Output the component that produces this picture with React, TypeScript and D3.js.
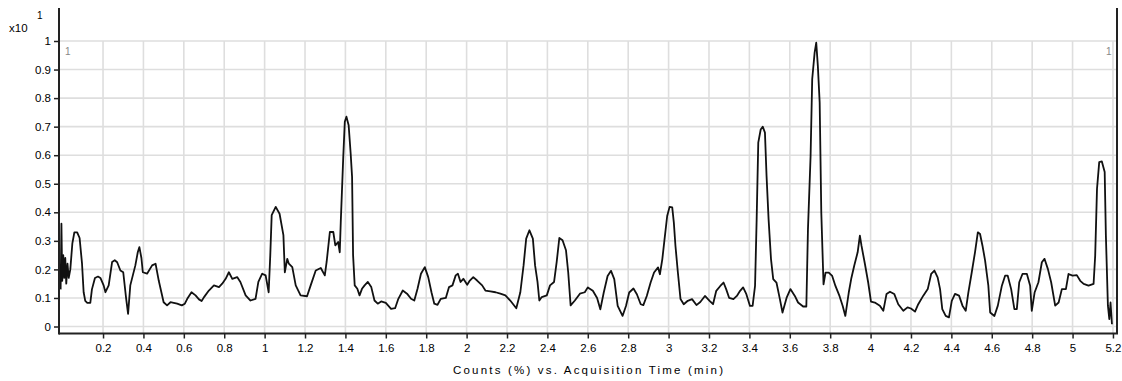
import React, { useEffect, useRef } from 'react';
import * as d3 from 'd3';

// acquisition time (min)
const timeMin = [
  -0.01, -0.006, -0.002, 0.003, 0.008, 0.013, 0.018, 0.024, 0.03, 0.038, 0.048, 0.058, 0.072, 0.084, 0.096,
  0.104, 0.112, 0.122, 0.137, 0.145, 0.16, 0.175, 0.187, 0.203, 0.212, 0.228, 0.245, 0.258, 0.27, 0.286,
  0.3, 0.314, 0.324, 0.335, 0.36, 0.372, 0.38, 0.39, 0.397, 0.418, 0.443, 0.46, 0.476, 0.5, 0.517,
  0.534, 0.55, 0.567, 0.59, 0.605, 0.617, 0.638, 0.658, 0.675, 0.688, 0.7, 0.724, 0.749, 0.774, 0.79,
  0.807, 0.823, 0.84, 0.864, 0.88, 0.906, 0.93, 0.955, 0.969, 0.988, 1.005, 1.02, 1.028, 1.035, 1.055,
  1.074, 1.093, 1.1, 1.112, 1.12, 1.137, 1.154, 1.178, 1.21, 1.228, 1.253, 1.278,
  1.298, 1.307, 1.323, 1.34, 1.35, 1.364, 1.372, 1.377, 1.389, 1.397, 1.405, 1.416, 1.426, 1.433, 1.438,
  1.446, 1.459, 1.47, 1.482, 1.495, 1.511, 1.528, 1.544, 1.56, 1.577, 1.6, 1.626, 1.646, 1.662, 1.684,
  1.705, 1.725, 1.741, 1.757, 1.774, 1.793, 1.81, 1.826, 1.84, 1.856, 1.872, 1.897, 1.913, 1.93, 1.946,
  1.957, 1.97, 1.984, 2.003, 2.016, 2.033, 2.052, 2.077, 2.093, 2.118, 2.143, 2.167, 2.192, 2.216, 2.246,
  2.266, 2.282, 2.295, 2.311, 2.328, 2.339, 2.351, 2.36, 2.372, 2.397, 2.413, 2.433, 2.446, 2.459, 2.475,
  2.492, 2.503, 2.515, 2.536, 2.561, 2.585,
  2.6, 2.625, 2.646, 2.662, 2.679, 2.698, 2.715, 2.731, 2.748, 2.772, 2.789, 2.805, 2.826, 2.843, 2.862,
  2.875, 2.892, 2.911, 2.928, 2.948, 2.957, 2.969, 2.98, 2.993, 3.005, 3.018, 3.026, 3.034, 3.046, 3.059,
  3.075, 3.095, 3.116, 3.138, 3.157, 3.18, 3.203, 3.22, 3.236, 3.256, 3.272, 3.285, 3.3, 3.321, 3.338,
  3.354, 3.369, 3.385, 3.403, 3.416, 3.428, 3.436, 3.444, 3.456, 3.466, 3.477, 3.485, 3.495, 3.507, 3.518,
  3.534, 3.551, 3.564, 3.584, 3.603, 3.625, 3.641, 3.666, 3.682, 3.69, 3.703, 3.711, 3.723, 3.731, 3.739,
  3.748, 3.756, 3.767, 3.777, 3.793, 3.81, 3.826, 3.846, 3.862, 3.875, 3.892, 3.905,
  3.919, 3.936, 3.947, 3.955, 3.972, 3.988, 4.002, 4.021, 4.046, 4.063, 4.079, 4.096, 4.117, 4.137, 4.162,
  4.183, 4.2, 4.22, 4.236, 4.261, 4.283, 4.3, 4.316, 4.332, 4.344, 4.355, 4.372, 4.388, 4.402, 4.418,
  4.438, 4.455, 4.471, 4.484, 4.501, 4.517, 4.531, 4.542, 4.554, 4.567, 4.583, 4.592, 4.613, 4.63, 4.65,
  4.666, 4.679, 4.696, 4.712, 4.724, 4.736, 4.752, 4.774, 4.79, 4.798, 4.812, 4.831, 4.848, 4.861, 4.878,
  4.894, 4.914, 4.931, 4.947, 4.967, 4.98, 5.0, 5.021, 5.038, 5.055, 5.079, 5.104, 5.112, 5.121, 5.132,
  5.145, 5.159, 5.165, 5.175, 5.182, 5.188, 5.195,
];

// counts (x10^1 %)
const counts = [
  0.13, 0.36, 0.16, 0.25, 0.17, 0.24, 0.15, 0.22, 0.17, 0.2, 0.29, 0.33, 0.33, 0.31, 0.22,
  0.12, 0.09, 0.083, 0.083, 0.13, 0.17, 0.175, 0.17, 0.144, 0.12, 0.144, 0.226, 0.232, 0.225, 0.196,
  0.19, 0.1, 0.044, 0.144, 0.214, 0.26, 0.278, 0.24, 0.19, 0.185, 0.214, 0.22, 0.16, 0.085, 0.074,
  0.085, 0.083, 0.08, 0.074, 0.08, 0.097, 0.12, 0.109, 0.095, 0.089, 0.103, 0.126, 0.144, 0.138, 0.15,
  0.167, 0.19, 0.167, 0.173, 0.156, 0.109, 0.091, 0.097, 0.156, 0.185, 0.179, 0.12, 0.25, 0.39, 0.419,
  0.395, 0.32, 0.19, 0.237, 0.22, 0.208, 0.144, 0.109, 0.106, 0.144, 0.196, 0.205,
  0.179, 0.226, 0.331, 0.331, 0.284, 0.296, 0.26, 0.366, 0.588, 0.717, 0.735, 0.705, 0.606, 0.524, 0.249,
  0.144, 0.132, 0.109, 0.132, 0.144, 0.156, 0.138, 0.091, 0.08, 0.088, 0.083, 0.062, 0.064, 0.097, 0.126,
  0.115, 0.097, 0.091, 0.132, 0.185, 0.208, 0.173, 0.12, 0.08, 0.076, 0.097, 0.1, 0.138, 0.144, 0.179,
  0.185, 0.156, 0.167, 0.146, 0.161, 0.173, 0.161, 0.144, 0.126, 0.123, 0.12, 0.115, 0.109, 0.091, 0.064,
  0.12, 0.214, 0.308, 0.337, 0.308, 0.214, 0.156, 0.091, 0.103, 0.109, 0.144, 0.156, 0.226, 0.31, 0.302,
  0.267, 0.19, 0.074, 0.091, 0.115, 0.12,
  0.137, 0.125, 0.1, 0.06, 0.119, 0.177, 0.195, 0.166, 0.072, 0.037, 0.072, 0.119, 0.133, 0.113, 0.078,
  0.075, 0.107, 0.154, 0.189, 0.207, 0.183, 0.236, 0.306, 0.387, 0.419, 0.417, 0.364, 0.282, 0.189, 0.096,
  0.078, 0.09, 0.096, 0.075, 0.086, 0.107, 0.09, 0.078, 0.125, 0.142, 0.154, 0.131, 0.1, 0.096, 0.107,
  0.125, 0.137, 0.113, 0.072, 0.072, 0.142, 0.376, 0.644, 0.69, 0.7, 0.679, 0.527, 0.376, 0.236, 0.166,
  0.154, 0.096, 0.049, 0.1, 0.131, 0.107, 0.084, 0.07, 0.07, 0.341, 0.597, 0.866, 0.959, 0.994, 0.912,
  0.784, 0.399, 0.148, 0.189, 0.189, 0.177, 0.142, 0.107, 0.072, 0.037, 0.119, 0.17,
  0.213, 0.26, 0.318, 0.283, 0.219, 0.155, 0.087, 0.084, 0.073, 0.055, 0.114, 0.122, 0.114, 0.078, 0.055,
  0.067, 0.063, 0.052, 0.078, 0.108, 0.131, 0.184, 0.196, 0.172, 0.131, 0.061, 0.037, 0.032, 0.09, 0.114,
  0.108, 0.073, 0.055, 0.119, 0.19, 0.26, 0.33, 0.324, 0.283, 0.231, 0.143, 0.049, 0.037, 0.073, 0.143,
  0.178, 0.178, 0.131, 0.061, 0.061, 0.155, 0.184, 0.184, 0.143, 0.055, 0.119, 0.155, 0.225, 0.237, 0.201,
  0.155, 0.073, 0.084, 0.131, 0.131, 0.184, 0.178, 0.18, 0.16, 0.149, 0.143, 0.149, 0.248, 0.482, 0.576,
  0.578, 0.541, 0.318, 0.073, 0.026, 0.084, 0.008,
];

const xTicks = [0.2, 0.4, 0.6, 0.8, 1, 1.2, 1.4, 1.6, 1.8, 2, 2.2, 2.4, 2.6, 2.8, 3, 3.2, 3.4, 3.6, 3.8, 4, 4.2, 4.4, 4.6, 4.8, 5, 5.2];
const yTicks = [0, 0.1, 0.2, 0.3, 0.4, 0.5, 0.6, 0.7, 0.8, 0.9, 1];

const xTitle = 'Counts (%) vs. Acquisition Time (min)';

export default function App() {
  const svgRef = useRef<SVGSVGElement>(null);
  const width = 1122;
  const height = 381;

  useEffect(() => {
    if (!svgRef.current) return;
    const root = d3.select(svgRef.current);
    root.selectAll('*').remove();

    const left = 59;
    const right = 1117;
    const top = 8;
    const bottom = 333.5;
    const font = '"Liberation Sans", Arial, sans-serif';

    const x = d3.scaleLinear().domain([-0.018, 5.22]).range([left, right]);
    const y = d3.scaleLinear().domain([0, 1]).range([326.5, 41]);

    // grid
    const grid = root.append('g');
    grid
      .selectAll('.vg')
      .data(xTicks)
      .enter()
      .append('line')
      .attr('x1', (d) => x(d))
      .attr('x2', (d) => x(d))
      .attr('y1', y(1))
      .attr('y2', bottom)
      .attr('stroke', '#dedede')
      .attr('stroke-width', 1.6);
    grid
      .selectAll('.hg')
      .data(yTicks)
      .enter()
      .append('line')
      .attr('x1', left)
      .attr('x2', right)
      .attr('y1', (d) => y(d))
      .attr('y2', (d) => y(d))
      .attr('stroke', '#dedede')
      .attr('stroke-width', 1.6);

    // trace
    const pts = timeMin.map((t, i) => [t, counts[i]] as [number, number]);
    const line = d3
      .line<[number, number]>()
      .x((d) => x(d[0]))
      .y((d) => y(d[1]));
    root
      .append('path')
      .datum(pts)
      .attr('d', line)
      .attr('fill', 'none')
      .attr('stroke', '#111')
      .attr('stroke-width', 1.8)
      .attr('stroke-linejoin', 'round');

    // x axis
    const xAxis = root
      .append('g')
      .attr('transform', `translate(0, ${bottom})`)
      .call(
        d3
          .axisBottom(x)
          .tickValues(xTicks)
          .tickSize(5)
          .tickFormat((d) => d3.format('~g')(d as number))
      );
    xAxis.select('.domain').remove();
    xAxis.selectAll('.tick line').attr('stroke', '#222').attr('stroke-width', 1.5);
    xAxis
      .selectAll('text')
      .attr('fill', '#000')
      .attr('font-size', '11.5px')
      .attr('font-family', font)
      .attr('dy', '0.72em')
      .attr('y', 10);

    // y axis
    const yAxis = root
      .append('g')
      .attr('transform', `translate(${left}, 0)`)
      .call(
        d3
          .axisLeft(y)
          .tickValues(yTicks)
          .tickSize(5)
          .tickFormat((d) => d3.format('~g')(d as number))
      );
    yAxis.select('.domain').remove();
    yAxis.selectAll('.tick line').attr('stroke', '#222').attr('stroke-width', 1.5);
    yAxis
      .selectAll('text')
      .attr('fill', '#000')
      .attr('font-size', '11.5px')
      .attr('font-family', font)
      .attr('x', -8);

    // axis lines and right frame
    root
      .append('line')
      .attr('x1', left)
      .attr('x2', left)
      .attr('y1', top)
      .attr('y2', bottom + 1)
      .attr('stroke', '#222')
      .attr('stroke-width', 2);
    root
      .append('line')
      .attr('x1', left)
      .attr('x2', right + 1)
      .attr('y1', bottom)
      .attr('y2', bottom)
      .attr('stroke', '#222')
      .attr('stroke-width', 2);
    root
      .append('line')
      .attr('x1', right)
      .attr('x2', right)
      .attr('y1', top)
      .attr('y2', bottom)
      .attr('stroke', '#222')
      .attr('stroke-width', 2);

    // scale factor label
    root
      .append('text')
      .attr('x', 9)
      .attr('y', 32)
      .attr('font-size', '11.5px')
      .attr('font-family', font)
      .attr('fill', '#000')
      .text('x10');
    root
      .append('text')
      .attr('x', 37)
      .attr('y', 19)
      .attr('font-size', '10px')
      .attr('font-family', font)
      .attr('fill', '#000')
      .text('1');

    // small trace markers
    root
      .append('text')
      .attr('x', 65)
      .attr('y', 55)
      .attr('font-size', '10px')
      .attr('font-family', font)
      .attr('fill', '#888')
      .text('1');
    root
      .append('text')
      .attr('x', 1106)
      .attr('y', 55)
      .attr('font-size', '10px')
      .attr('font-family', font)
      .attr('fill', '#888')
      .text('1');

    // x title
    root
      .append('text')
      .attr('x', 453)
      .attr('y', 374)
      .attr('font-size', '11.5px')
      .attr('font-family', font)
      .attr('fill', '#000')
      .attr('textLength', 270)
      .attr('lengthAdjust', 'spacing')
      .text(xTitle);
  }, []);

  return (
    <svg
      ref={svgRef}
      width={width}
      height={height}
      style={{ position: 'absolute', left: 0, top: 0, background: '#fff' }}
    ></svg>
  );
}
